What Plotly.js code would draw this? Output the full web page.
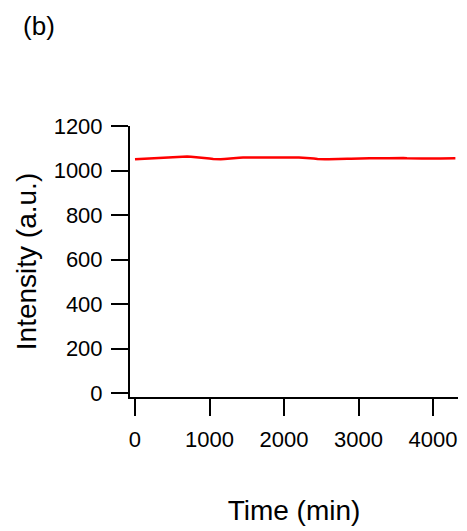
<!DOCTYPE html>
<html>
<head>
<meta charset="utf-8">
<script src="https://cdn.plot.ly/plotly-3.0.1.min.js"></script>
<style>html,body{margin:0;padding:0;background:#fff;}#chart{width:467px;height:531px;}</style>
</head>
<body>
<div id="chart"></div>
<script>
const timeMin = [0,50,100,150,200,250,300,350,400,450,500,550,600,650,700,750,800,850,900,950,1000,1050,1100,1150,1200,1250,1300,1350,1400,1450,1500,1550,1600,1650,1700,1750,1800,1850,1900,1950,2000,2050,2100,2150,2200,2250,2300,2350,2400,2450,2500,2550,2600,2650,2700,2750,2800,2850,2900,2950,3000,3050,3100,3150,3200,3250,3300,3350,3400,3450,3500,3550,3600,3650,3700,3750,3800,3850,3900,3950,4000,4050,4100,4150,4200,4250,4300];
const intensity = [1050,1051,1052,1054,1055,1056,1057,1056,1058,1059,1060,1061,1062,1063,1063,1062,1061,1060,1059,1056,1054,1052,1050,1051,1052,1054,1055,1056,1057,1058,1058,1059,1060,1059,1060,1061,1061,1060,1060,1061,1060,1059,1059,1058,1058,1057,1057,1055,1054,1052,1050,1051,1051,1052,1052,1051,1052,1053,1053,1054,1054,1053,1054,1055,1055,1054,1054,1055,1055,1056,1055,1056,1056,1055,1054,1053,1053,1054,1054,1055,1055,1054,1054,1055,1055,1054,1055];
const xTicks = [0,1000,2000,3000,4000];
const yTicks = [0,200,400,600,800,1000,1200];

const font = 'Liberation Sans, Arial, sans-serif';
const data = [{
  x: timeMin, y: intensity, type: 'scatter', mode: 'lines',
  line: {color: '#ff0000', width: 2.5}, hoverinfo: 'skip'
}];
const axisCommon = {
  showgrid: false, zeroline: false, showline: true, linecolor: '#000', linewidth: 2,
  ticks: 'outside', ticklen: 17, tickwidth: 2, tickcolor: '#000',
  tickfont: {family: font, size: 22, color: '#000'}, mirror: false
};
const layout = {
  width: 467, height: 531,
  margin: {l: 130, r: 9, t: 126, b: 134},
  paper_bgcolor: '#fff', plot_bgcolor: '#fff',
  showlegend: false,
  title: {text: '(b)', x: 39/467, xanchor: 'center', y: 1 - 26/531, yanchor: 'middle',
          font: {family: font, size: 26, color: '#000'}},
  xaxis: Object.assign({}, axisCommon, {
    range: [-67, 4335], tickvals: xTicks, ticktext: xTicks.map(String),
    ticklabelstandoff: 5,
    title: {text: 'Time (min)', font: {family: font, size: 28, color: '#000'}, standoff: 49}
  }),
  yaxis: Object.assign({}, axisCommon, {
    range: [-18, 1200], tickvals: yTicks, ticktext: yTicks.map(String),
    ticklabelstandoff: 4,
    title: {text: 'Intensity (a.u.)', font: {family: font, size: 28, color: '#000'}, standoff: 9}
  })
};
Plotly.newPlot('chart', data, layout, {staticPlot: true, displayModeBar: false});
</script>
</body>
</html>
